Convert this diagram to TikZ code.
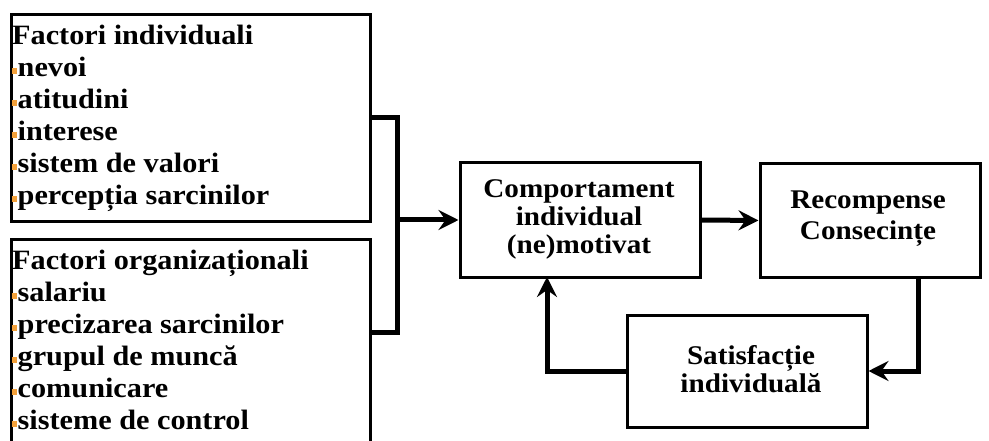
\documentclass[tikz,border=0pt]{standalone}
\usepackage{fontspec}
\setmainfont[FakeStretch=1.08]{Liberation Serif}
\usetikzlibrary{arrows.meta}
\definecolor{bulorange}{HTML}{F2A03A}
\newcommand\bul{{\color{bulorange}\rule[0.22ex]{5pt}{6pt}}\hspace{0.5pt}}
\begin{document}
\begin{tikzpicture}[x=1pt,y=-1pt,
  box/.style={draw, line width=3pt, inner sep=0pt, fill=white},
  listtxt/.style={anchor=north west, align=left, inner sep=0pt,
    font=\fontsize{28}{32}\selectfont\bfseries},
  midtxt/.style={align=center, inner sep=0pt, font=\bfseries},
  conn/.style={line width=5pt},
  arr/.style={line width=5pt, -{Stealth[length=20pt,width=20pt,inset=7pt]}}
]
\useasboundingbox (0,0) rectangle (989,441);
\clip (0,0) rectangle (989,441);
% left boxes
\node[box, minimum width=359pt, minimum height=207pt, anchor=north west] (ind) at (10,13) {};
\node[listtxt] (indtxt) at (12,25) {Factori individuali\\ \bul nevoi\\ \bul atitudini\\ \bul interese\\ \bul sistem de valori\\ \bul percepția sarcinilor};
\node[box, minimum width=359pt, minimum height=220pt, anchor=north west] (org) at (10,238) {};
\node[listtxt] (orgtxt) at (12,250) {Factori organizaționali\\ \bul salariu\\ \bul precizarea sarcinilor\\ \bul grupul de muncă\\ \bul comunicare\\ \bul sisteme de control};
% right boxes
\node[box, minimum width=240pt, minimum height=114pt] (comp) at (580,220) {};
\node[midtxt, font=\fontsize{27}{28}\selectfont\bfseries] (comptxt) at (579,219) {Comportament\\ individual\\ (ne)motivat};
\node[box, minimum width=220pt, minimum height=113pt] (rec) at (870,220.5) {};
\node[midtxt, font=\fontsize{27}{31}\selectfont\bfseries] (rectxt) at (868,219) {Recompense\\ Consecințe};
\node[box, minimum width=240pt, minimum height=112pt] (sat) at (747,371) {};
\node[midtxt, font=\fontsize{27}{28}\selectfont\bfseries] (sattxt) at (751,369) {Satisfacție\\ individuală};
% connectors
\coordinate (j1) at (369,118);
\coordinate (j2) at (369,332);
\coordinate (jn) at (397,220);
\coordinate (rb) at (918,277);
\coordinate (cb) at (547,277);
\draw[conn] (j1) -| (jn);
\draw[conn] (j2) -| (jn);
\draw[arr] (jn) -- (comp.west);
\draw[arr] (comp.east) -- (rec.west);
\draw[arr] (rb) |- (sat.east);
\draw[arr] (sat.west) -| (cb);
\end{tikzpicture}
\end{document}
